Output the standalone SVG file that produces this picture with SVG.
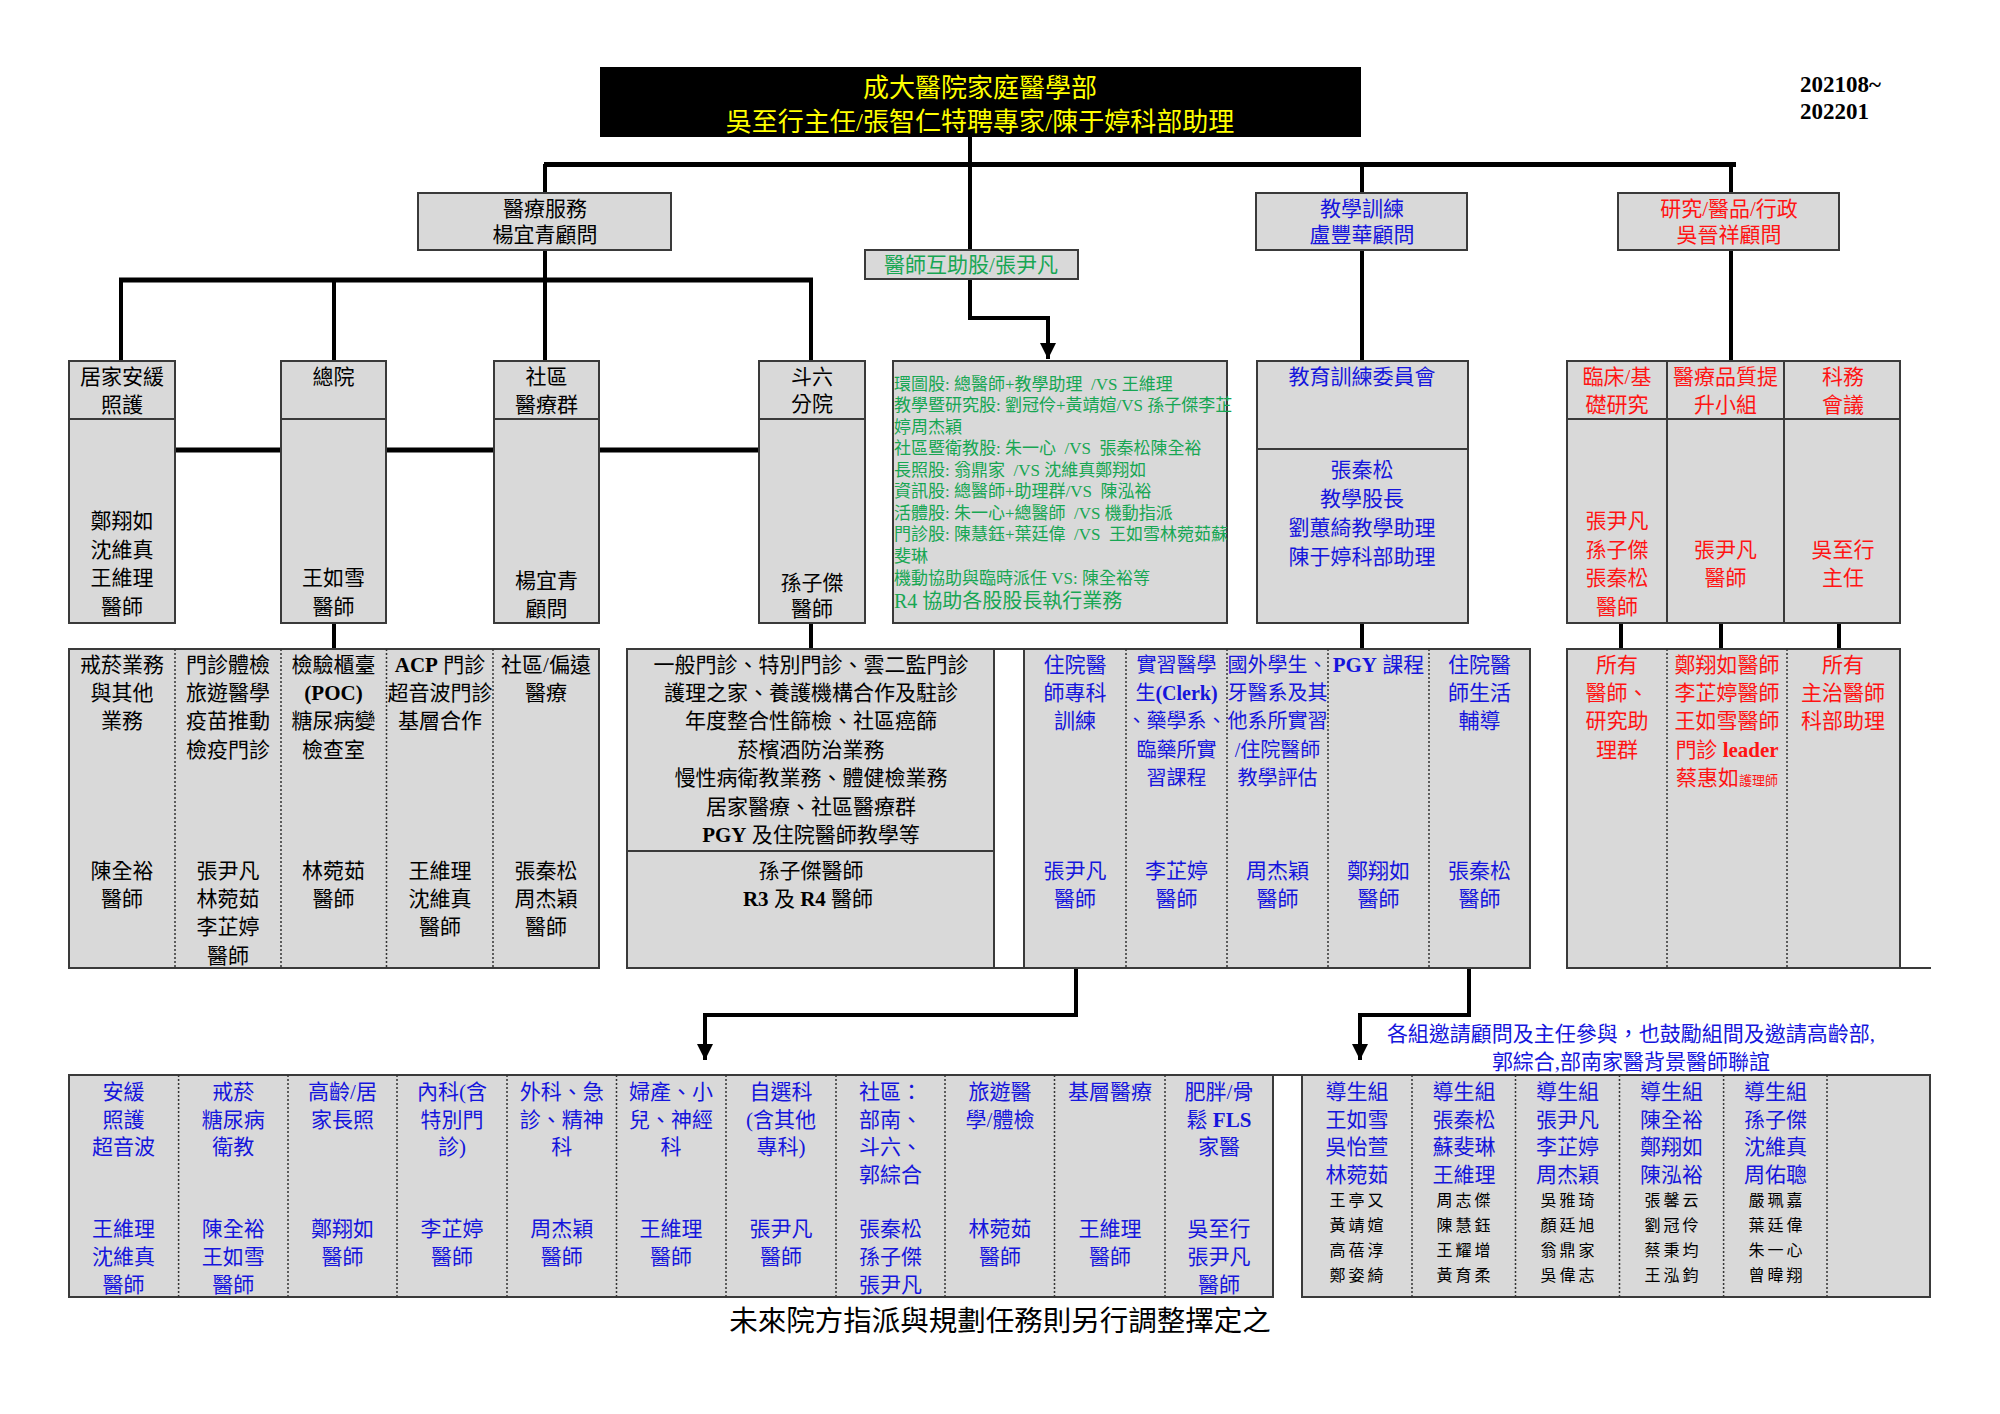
<svg xmlns="http://www.w3.org/2000/svg" width="2000" height="1414" viewBox="0 0 2000 1414">
<style>
.t{font-family:"Liberation Serif","Noto Sans CJK TC",serif;font-size:21px;text-anchor:middle}
.k{fill:#000}.bl{fill:#1515dc}.rd{fill:#ff1414}.gr{fill:#17a653}.yl{fill:#ffff00}
.bx{fill:#d9d9d9;stroke:#3a3a3a;stroke-width:2}
.dv{stroke:#3a3a3a;stroke-width:2;fill:none}
.dt{stroke:#333;stroke-width:1.5;stroke-dasharray:2 2;fill:none}
.cn{stroke:#000;fill:none;stroke-width:4}
.br{stroke:#000;fill:none;stroke-width:5}
.bd{font-weight:bold}
.gt{font-family:"Liberation Serif","Noto Sans CJK TC",serif;font-size:17px;fill:#17a653}
.sm{font-family:"Noto Sans CJK TC",sans-serif;font-size:16px;letter-spacing:3px;text-anchor:middle;fill:#000}
.f26{font-size:26px}.f20{font-size:20px}.f23{font-size:23px}.f28{font-size:28.5px}.f13{font-size:13px}.f21{font-size:21px}
</style>
<defs>
<marker id="ah" markerUnits="userSpaceOnUse" markerWidth="16" markerHeight="16" viewBox="0 0 16 16" refX="16" refY="8" orient="auto">
<path d="M0,0 L16,8 L0,16 z" fill="#000"/>
</marker>
</defs>
<rect width="2000" height="1414" fill="#fff"/>

<g id="connectors">
<polyline class="cn" points="970,137 970,318 1048,318 1048,359" marker-end="url(#ah)"/>
<line class="br" x1="544" y1="164.5" x2="1736" y2="164.5"/>
<line class="cn" x1="545" y1="164" x2="545" y2="193"/>
<line class="cn" x1="1362" y1="164" x2="1362" y2="193"/>
<line class="cn" x1="1731" y1="164" x2="1731" y2="193"/>
<line class="cn" x1="545" y1="250" x2="545" y2="280"/>
<line class="br" x1="119" y1="280" x2="813" y2="280"/>
<line class="cn" x1="121" y1="280" x2="121" y2="361"/>
<line class="cn" x1="334" y1="280" x2="334" y2="361"/>
<line class="cn" x1="545" y1="280" x2="545" y2="361"/>
<line class="cn" x1="811" y1="280" x2="811" y2="361"/>
<line class="br" x1="175" y1="450" x2="281" y2="450"/>
<line class="br" x1="386" y1="450" x2="494" y2="450"/>
<line class="br" x1="599" y1="450" x2="759" y2="450"/>
<line class="cn" x1="1362" y1="250" x2="1362" y2="361"/>
<line class="cn" x1="1731" y1="250" x2="1731" y2="361"/>
<line class="cn" x1="334" y1="623" x2="334" y2="649"/>
<line class="cn" x1="811" y1="623" x2="811" y2="649"/>
<line class="cn" x1="1362" y1="623" x2="1362" y2="649"/>
<line class="cn" x1="1621" y1="623" x2="1621" y2="649"/>
<line class="cn" x1="1721" y1="623" x2="1721" y2="649"/>
<line class="cn" x1="1839" y1="623" x2="1839" y2="649"/>
<polyline class="cn" points="1076,968 1076,1015 705,1015 705,1060" marker-end="url(#ah)"/>
<polyline class="cn" points="1469,968 1469,1015 1360,1015 1360,1060" marker-end="url(#ah)"/>
</g>

<g id="n-title">
<rect x="600" y="67" width="761" height="70" fill="#000"/>
<text class="t yl f26"><tspan x="980" y="97">成大醫院家庭醫學部</tspan><tspan x="980" y="131">吳至行主任/張智仁特聘專家/陳于婷科部助理</tspan></text>
</g>
<g id="n-date">
<text class="t k bd f23" style="text-anchor:start"><tspan x="1800" y="92">202108~</tspan><tspan x="1800" y="119">202201</tspan></text>
</g>

<g id="n-medical">
<rect class="bx" x="418" y="193" width="253" height="57"/>
<text class="t k"><tspan x="545" y="216">醫療服務</tspan><tspan x="545" y="242">楊宜青顧問</tspan></text>
</g>
<g id="n-mutual">
<rect class="bx" x="865" y="250" width="213" height="29"/>
<text class="t gr"><tspan x="971" y="272">醫師互助股/張尹凡</tspan></text>
</g>
<g id="n-teach">
<rect class="bx" x="1256" y="193" width="211" height="57"/>
<text class="t bl"><tspan x="1362" y="216">教學訓練</tspan><tspan x="1362" y="242">盧豐華顧問</tspan></text>
</g>
<g id="n-research">
<rect class="bx" x="1618" y="193" width="221" height="57"/>
<text class="t rd"><tspan x="1729" y="216">研究/醫品/行政</tspan><tspan x="1729" y="242">吳晉祥顧問</tspan></text>
</g>

<g id="n-homecare">
<rect class="bx" x="69" y="361" width="106" height="262"/>
<line class="dv" x1="69" y1="419" x2="175" y2="419"/>
<text class="t k"><tspan x="122" y="384">居家安緩</tspan><tspan x="122" y="412">照護</tspan><tspan x="122" y="528">鄭翔如</tspan><tspan x="122" y="556.5">沈維真</tspan><tspan x="122" y="585">王維理</tspan><tspan x="122" y="613.5">醫師</tspan></text>
</g>
<g id="n-main">
<rect class="bx" x="281" y="361" width="105" height="262"/>
<line class="dv" x1="281" y1="419" x2="386" y2="419"/>
<text class="t k"><tspan x="333.5" y="384">總院</tspan><tspan x="333.5" y="585">王如雪</tspan><tspan x="333.5" y="613.5">醫師</tspan></text>
</g>
<g id="n-community">
<rect class="bx" x="494" y="361" width="105" height="262"/>
<line class="dv" x1="494" y1="419" x2="599" y2="419"/>
<text class="t k"><tspan x="546.5" y="384">社區</tspan><tspan x="546.5" y="412">醫療群</tspan><tspan x="546.5" y="588">楊宜青</tspan><tspan x="546.5" y="616">顧問</tspan></text>
</g>
<g id="n-douliu">
<rect class="bx" x="759" y="361" width="106" height="262"/>
<line class="dv" x1="759" y1="419" x2="865" y2="419"/>
<text class="t k"><tspan x="812" y="384">斗六</tspan><tspan x="812" y="411">分院</tspan><tspan x="812" y="590">孫子傑</tspan><tspan x="812" y="616">醫師</tspan></text>
</g>
<g id="n-green">
<rect class="bx" x="893" y="361" width="334" height="262"/>
<text class="gt" xml:space="preserve"><tspan x="894" y="389.5">環圖股: 總醫師+教學助理  /VS 王維理</tspan><tspan x="894" y="411">教學暨研究股: 劉冠伶+黃靖媗/VS 孫子傑李芷</tspan><tspan x="894" y="432.5">婷周杰穎</tspan><tspan x="894" y="454">社區暨衛教股: 朱一心  /VS  張秦松陳全裕</tspan><tspan x="894" y="475.5">長照股: 翁鼎家  /VS 沈維真鄭翔如</tspan><tspan x="894" y="497">資訊股: 總醫師+助理群/VS  陳泓裕</tspan><tspan x="894" y="518.5">活體股: 朱一心+總醫師  /VS 機動指派</tspan><tspan x="894" y="540">門診股: 陳慧鈺+葉廷偉  /VS  王如雪林菀茹蘇</tspan><tspan x="894" y="562">斐琳</tspan><tspan x="894" y="583.5">機動協助與臨時派任 VS: 陳全裕等</tspan><tspan x="894" y="607.5" class="f20">R4 協助各股股長執行業務</tspan></text>
</g>
<g id="n-committee">
<rect class="bx" x="1257" y="361" width="211" height="262"/>
<line class="dv" x1="1257" y1="449" x2="1468" y2="449"/>
<text class="t bl"><tspan x="1362" y="384">教育訓練委員會</tspan><tspan x="1362" y="476.5">張秦松</tspan><tspan x="1362" y="505.5">教學股長</tspan><tspan x="1362" y="535">劉蕙綺教學助理</tspan><tspan x="1362" y="563.5">陳于婷科部助理</tspan></text>
</g>
<g id="n-resgroup">
<rect class="bx" x="1567" y="361" width="333" height="262"/>
<line class="dv" x1="1567" y1="419" x2="1900" y2="419"/>
<line class="dv" x1="1667" y1="361" x2="1667" y2="623"/>
<line class="dv" x1="1784" y1="361" x2="1784" y2="623"/>
<text class="t rd"><tspan x="1617" y="384">臨床/基</tspan><tspan x="1617" y="412">礎研究</tspan><tspan x="1617" y="528">張尹凡</tspan><tspan x="1617" y="556.5">孫子傑</tspan><tspan x="1617" y="585">張秦松</tspan><tspan x="1617" y="613.5">醫師</tspan><tspan x="1725.5" y="384">醫療品質提</tspan><tspan x="1725.5" y="412">升小組</tspan><tspan x="1725.5" y="556.5">張尹凡</tspan><tspan x="1725.5" y="585">醫師</tspan><tspan x="1843" y="384">科務</tspan><tspan x="1843" y="412">會議</tspan><tspan x="1843" y="556.5">吳至行</tspan><tspan x="1843" y="585">主任</tspan></text>
</g>

<g id="n-services">
<rect class="bx" x="69" y="649" width="530" height="319"/>
<line class="dt" x1="175" y1="649" x2="175" y2="968"/>
<line class="dt" x1="281" y1="649" x2="281" y2="968"/>
<line class="dt" x1="386.5" y1="649" x2="386.5" y2="968"/>
<line class="dt" x1="493" y1="649" x2="493" y2="968"/>
<text class="t k"><tspan x="122" y="671.5">戒菸業務</tspan><tspan x="122" y="700">與其他</tspan><tspan x="122" y="728">業務</tspan><tspan x="122" y="877.5">陳全裕</tspan><tspan x="122" y="906">醫師</tspan></text>
<text class="t k"><tspan x="228" y="671.5">門診體檢</tspan><tspan x="228" y="700">旅遊醫學</tspan><tspan x="228" y="728">疫苗推動</tspan><tspan x="228" y="756.5">檢疫門診</tspan><tspan x="228" y="877.5">張尹凡</tspan><tspan x="228" y="906">林菀茹</tspan><tspan x="228" y="934">李芷婷</tspan><tspan x="228" y="962.5">醫師</tspan></text>
<text class="t k"><tspan x="333.5" y="671.5">檢驗櫃臺</tspan><tspan x="333.5" y="700" class="bd">(POC)</tspan><tspan x="333.5" y="728">糖尿病變</tspan><tspan x="333.5" y="756.5">檢查室</tspan><tspan x="333.5" y="877.5">林菀茹</tspan><tspan x="333.5" y="906">醫師</tspan></text>
<text class="t k"><tspan x="440" y="671.5"><tspan class="bd">ACP</tspan> 門診</tspan><tspan x="440" y="700">超音波門診</tspan><tspan x="440" y="728">基層合作</tspan><tspan x="440" y="877.5">王維理</tspan><tspan x="440" y="906">沈維真</tspan><tspan x="440" y="934">醫師</tspan></text>
<text class="t k"><tspan x="546" y="671.5">社區/偏遠</tspan><tspan x="546" y="700">醫療</tspan><tspan x="546" y="877.5">張秦松</tspan><tspan x="546" y="906">周杰穎</tspan><tspan x="546" y="934">醫師</tspan></text>
</g>
<g id="n-general">
<rect class="bx" x="627" y="649" width="367" height="319"/>
<line class="dv" x1="627" y1="851" x2="994" y2="851"/>
<text class="t k"><tspan x="811" y="671.5">一般門診、特別門診、雲二監門診</tspan><tspan x="811" y="700">護理之家、養護機構合作及駐診</tspan><tspan x="811" y="728">年度整合性篩檢、社區癌篩</tspan><tspan x="811" y="756.5">菸檳酒防治業務</tspan><tspan x="811" y="785">慢性病衛教業務、體健檢業務</tspan><tspan x="811" y="813.5">居家醫療、社區醫療群</tspan><tspan x="811" y="841.5"><tspan class="bd">PGY</tspan> 及住院醫師教學等</tspan><tspan x="811" y="877.5">孫子傑醫師</tspan><tspan x="808" y="906"><tspan class="bd">R3</tspan> 及 <tspan class="bd">R4</tspan> 醫師</tspan></text>
</g>
<g id="n-teachtable">
<rect x="994" y="649" width="30" height="319" fill="#fff" stroke="#3a3a3a" stroke-width="2"/>
<rect class="bx" x="1024" y="649" width="506" height="319"/>
<line class="dt" x1="1126" y1="649" x2="1126" y2="968"/>
<line class="dt" x1="1227" y1="649" x2="1227" y2="968"/>
<line class="dt" x1="1328" y1="649" x2="1328" y2="968"/>
<line class="dt" x1="1429" y1="649" x2="1429" y2="968"/>
<text class="t bl"><tspan x="1075" y="671.5">住院醫</tspan><tspan x="1075" y="700">師專科</tspan><tspan x="1075" y="728">訓練</tspan><tspan x="1075" y="877.5">張尹凡</tspan><tspan x="1075" y="906">醫師</tspan></text>
<text class="t bl f20"><tspan x="1176.5" y="671.5">實習醫學</tspan><tspan x="1176.5" y="700">生<tspan class="bd">(Clerk)</tspan></tspan><tspan x="1176.5" y="728">、藥學系、</tspan><tspan x="1176.5" y="756.5">臨藥所實</tspan><tspan x="1176.5" y="785">習課程</tspan><tspan x="1176.5" y="877.5" class="f21">李芷婷</tspan><tspan x="1176.5" y="906" class="f21">醫師</tspan></text>
<text class="t bl f20"><tspan x="1277.5" y="671.5">國外學生、</tspan><tspan x="1277.5" y="700">牙醫系及其</tspan><tspan x="1277.5" y="728">他系所實習</tspan><tspan x="1277.5" y="756.5">/住院醫師</tspan><tspan x="1277.5" y="785">教學評估</tspan><tspan x="1277.5" y="877.5" class="f21">周杰穎</tspan><tspan x="1277.5" y="906" class="f21">醫師</tspan></text>
<text class="t bl"><tspan x="1378.5" y="671.5"><tspan class="bd">PGY</tspan> 課程</tspan><tspan x="1378.5" y="877.5">鄭翔如</tspan><tspan x="1378.5" y="906">醫師</tspan></text>
<text class="t bl"><tspan x="1479.5" y="671.5">住院醫</tspan><tspan x="1479.5" y="700">師生活</tspan><tspan x="1479.5" y="728">輔導</tspan><tspan x="1479.5" y="877.5">張秦松</tspan><tspan x="1479.5" y="906">醫師</tspan></text>
</g>
<g id="n-restable">
<rect class="bx" x="1567" y="649" width="333" height="319"/>
<line class="dv" x1="1900" y1="968" x2="1931" y2="968"/>
<line class="dt" x1="1667" y1="649" x2="1667" y2="968"/>
<line class="dt" x1="1787" y1="649" x2="1787" y2="968"/>
<text class="t rd"><tspan x="1617" y="671.5">所有</tspan><tspan x="1617" y="700">醫師、</tspan><tspan x="1617" y="728">研究助</tspan><tspan x="1617" y="756.5">理群</tspan></text>
<text class="t rd"><tspan x="1727" y="671.5">鄭翔如醫師</tspan><tspan x="1727" y="700">李芷婷醫師</tspan><tspan x="1727" y="728">王如雪醫師</tspan><tspan x="1727" y="756.5">門診 <tspan class="bd">leader</tspan></tspan><tspan x="1727" y="785">蔡惠如<tspan class="f13">護理師</tspan></tspan></text>
<text class="t rd"><tspan x="1843" y="671.5">所有</tspan><tspan x="1843" y="700">主治醫師</tspan><tspan x="1843" y="728">科部助理</tspan></text>
</g>

<g id="n-specialty">
<rect class="bx" x="69" y="1075" width="1204" height="222"/>
<line class="dt" x1="178.6" y1="1075" x2="178.6" y2="1297"/>
<line class="dt" x1="288" y1="1075" x2="288" y2="1297"/>
<line class="dt" x1="397" y1="1075" x2="397" y2="1297"/>
<line class="dt" x1="507" y1="1075" x2="507" y2="1297"/>
<line class="dt" x1="616.5" y1="1075" x2="616.5" y2="1297"/>
<line class="dt" x1="726" y1="1075" x2="726" y2="1297"/>
<line class="dt" x1="836" y1="1075" x2="836" y2="1297"/>
<line class="dt" x1="945" y1="1075" x2="945" y2="1297"/>
<line class="dt" x1="1054.5" y1="1075" x2="1054.5" y2="1297"/>
<line class="dt" x1="1165" y1="1075" x2="1165" y2="1297"/>
<text class="t bl"><tspan x="123.6" y="1098.5">安緩</tspan><tspan x="123.6" y="1126.5">照護</tspan><tspan x="123.6" y="1154">超音波</tspan><tspan x="123.6" y="1235.5">王維理</tspan><tspan x="123.6" y="1263.5">沈維真</tspan><tspan x="123.6" y="1291.5">醫師</tspan></text>
<text class="t bl"><tspan x="233.3" y="1098.5">戒菸</tspan><tspan x="233.3" y="1126.5">糖尿病</tspan><tspan x="233.3" y="1154">衛教</tspan><tspan x="233.3" y="1235.5">陳全裕</tspan><tspan x="233.3" y="1263.5">王如雪</tspan><tspan x="233.3" y="1291.5">醫師</tspan></text>
<text class="t bl"><tspan x="342.5" y="1098.5">高齡/居</tspan><tspan x="342.5" y="1126.5">家長照</tspan><tspan x="342.5" y="1235.5">鄭翔如</tspan><tspan x="342.5" y="1263.5">醫師</tspan></text>
<text class="t bl"><tspan x="452" y="1098.5">內科(含</tspan><tspan x="452" y="1126.5">特別門</tspan><tspan x="452" y="1154">診)</tspan><tspan x="452" y="1235.5">李芷婷</tspan><tspan x="452" y="1263.5">醫師</tspan></text>
<text class="t bl"><tspan x="561.8" y="1098.5">外科、急</tspan><tspan x="561.8" y="1126.5">診、精神</tspan><tspan x="561.8" y="1154">科</tspan><tspan x="561.8" y="1235.5">周杰穎</tspan><tspan x="561.8" y="1263.5">醫師</tspan></text>
<text class="t bl"><tspan x="671" y="1098.5">婦產、小</tspan><tspan x="671" y="1126.5">兒、神經</tspan><tspan x="671" y="1154">科</tspan><tspan x="671" y="1235.5">王維理</tspan><tspan x="671" y="1263.5">醫師</tspan></text>
<text class="t bl"><tspan x="781" y="1098.5">自選科</tspan><tspan x="781" y="1126.5">(含其他</tspan><tspan x="781" y="1154">專科)</tspan><tspan x="781" y="1235.5">張尹凡</tspan><tspan x="781" y="1263.5">醫師</tspan></text>
<text class="t bl"><tspan x="890.5" y="1098.5">社區：</tspan><tspan x="890.5" y="1126.5">部南、</tspan><tspan x="890.5" y="1154">斗六、</tspan><tspan x="890.5" y="1182">郭綜合</tspan><tspan x="890.5" y="1235.5">張秦松</tspan><tspan x="890.5" y="1263.5">孫子傑</tspan><tspan x="890.5" y="1291.5">張尹凡</tspan></text>
<text class="t bl"><tspan x="1000" y="1098.5">旅遊醫</tspan><tspan x="1000" y="1126.5">學/體檢</tspan><tspan x="1000" y="1235.5">林菀茹</tspan><tspan x="1000" y="1263.5">醫師</tspan></text>
<text class="t bl"><tspan x="1110" y="1098.5">基層醫療</tspan><tspan x="1110" y="1235.5">王維理</tspan><tspan x="1110" y="1263.5">醫師</tspan></text>
<text class="t bl"><tspan x="1219" y="1098.5">肥胖/骨</tspan><tspan x="1219" y="1126.5">鬆 <tspan class="bd">FLS</tspan></tspan><tspan x="1219" y="1154">家醫</tspan><tspan x="1219" y="1235.5">吳至行</tspan><tspan x="1219" y="1263.5">張尹凡</tspan><tspan x="1219" y="1291.5">醫師</tspan></text>
</g>
<g id="n-mentor">
<line class="dv" x1="1273" y1="1075" x2="1302" y2="1075"/>
<rect class="bx" x="1302" y="1075" width="628" height="222"/>
<line class="dt" x1="1412" y1="1075" x2="1412" y2="1297"/>
<line class="dt" x1="1515.5" y1="1075" x2="1515.5" y2="1297"/>
<line class="dt" x1="1619.5" y1="1075" x2="1619.5" y2="1297"/>
<line class="dt" x1="1723.6" y1="1075" x2="1723.6" y2="1297"/>
<line class="dt" x1="1827" y1="1075" x2="1827" y2="1297"/>
<text class="t bl"><tspan x="1357" y="1098.5">導生組</tspan><tspan x="1357" y="1126.5">王如雪</tspan><tspan x="1357" y="1154">吳怡萱</tspan><tspan x="1357" y="1182">林菀茹</tspan></text>
<text class="sm"><tspan x="1358" y="1206">王亭又</tspan><tspan x="1358" y="1231">黃靖媗</tspan><tspan x="1358" y="1256">高蓓淳</tspan><tspan x="1358" y="1281">鄭姿綺</tspan></text>
<text class="t bl"><tspan x="1464" y="1098.5">導生組</tspan><tspan x="1464" y="1126.5">張秦松</tspan><tspan x="1464" y="1154">蘇斐琳</tspan><tspan x="1464" y="1182">王維理</tspan></text>
<text class="sm"><tspan x="1465" y="1206">周志傑</tspan><tspan x="1465" y="1231">陳慧鈺</tspan><tspan x="1465" y="1256">王耀增</tspan><tspan x="1465" y="1281">黃育柔</tspan></text>
<text class="t bl"><tspan x="1567.5" y="1098.5">導生組</tspan><tspan x="1567.5" y="1126.5">張尹凡</tspan><tspan x="1567.5" y="1154">李芷婷</tspan><tspan x="1567.5" y="1182">周杰穎</tspan></text>
<text class="sm"><tspan x="1569" y="1206">吳雅琦</tspan><tspan x="1569" y="1231">顏廷旭</tspan><tspan x="1569" y="1256">翁鼎家</tspan><tspan x="1569" y="1281">吳偉志</tspan></text>
<text class="t bl"><tspan x="1671.5" y="1098.5">導生組</tspan><tspan x="1671.5" y="1126.5">陳全裕</tspan><tspan x="1671.5" y="1154">鄭翔如</tspan><tspan x="1671.5" y="1182">陳泓裕</tspan></text>
<text class="sm"><tspan x="1673" y="1206">張馨云</tspan><tspan x="1673" y="1231">劉冠伶</tspan><tspan x="1673" y="1256">蔡秉均</tspan><tspan x="1673" y="1281">王泓鈞</tspan></text>
<text class="t bl"><tspan x="1775.5" y="1098.5">導生組</tspan><tspan x="1775.5" y="1126.5">孫子傑</tspan><tspan x="1775.5" y="1154">沈維真</tspan><tspan x="1775.5" y="1182">周佑聰</tspan></text>
<text class="sm"><tspan x="1777" y="1206">嚴珮嘉</tspan><tspan x="1777" y="1231">葉廷偉</tspan><tspan x="1777" y="1256">朱一心</tspan><tspan x="1777" y="1281">曾暐翔</tspan></text>
</g>
<g id="n-note">
<text class="t bl"><tspan x="1631" y="1040.5">各組邀請顧問及主任參與，也鼓勵組間及邀請高齡部,</tspan><tspan x="1631" y="1068.5">郭綜合,部南家醫背景醫師聯誼</tspan></text>
</g>
<g id="n-footer">
<text class="t k f28"><tspan x="1000" y="1331">未來院方指派與規劃任務則另行調整擇定之</tspan></text>
</g>
</svg>
